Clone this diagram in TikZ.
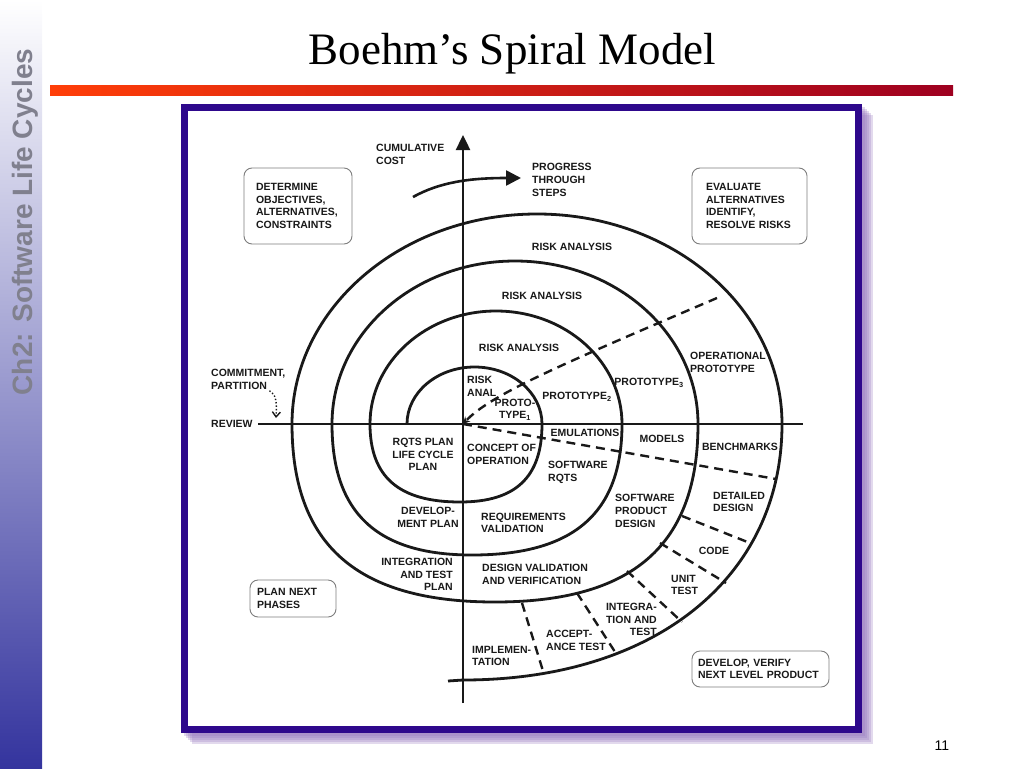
\documentclass[tikz,border=0pt]{standalone}
\usepackage{fontspec}
\setmainfont{Liberation Serif}
\newfontfamily\lblfont{Liberation Sans}
\usetikzlibrary{arrows.meta}

\definecolor{framec}{RGB}{46,8,140}
\definecolor{shadec}{RGB}{150,120,190}
\definecolor{barL}{RGB}{255,62,8}
\definecolor{barR}{RGB}{158,0,32}
\definecolor{sideB}{RGB}{52,52,158}
\definecolor{sidetxt}{RGB}{128,128,142}
\definecolor{boxc}{RGB}{125,125,125}
\definecolor{inkc}{RGB}{25,25,25}

\tikzset{
  lbl/.style={font=\lblfont\bfseries\fontsize{10.5}{12.7}\selectfont, text=inkc, inner sep=0pt},
  lblL/.style={lbl, anchor=west, align=left},
  lblR/.style={lbl, anchor=east, align=right},
  lblC/.style={lbl, align=center},
  phasebox/.style={lbl, draw=boxc, line width=0.9pt, rounded corners=8pt, align=left},
  spiral/.style={draw=inkc, line width=2.8pt, line join=round},
  axisline/.style={draw=inkc, line width=2.4pt},
  splitline/.style={draw=inkc, line width=2.4pt, dash pattern=on 9pt off 6pt},
  titlefont/.style={font=\fontsize{45}{50}\selectfont},
  chap/.style={rotate=90, anchor=base, text=sidetxt, font=\lblfont\bfseries\fontsize{28}{28}\selectfont},
}

\begin{document}
\begin{tikzpicture}[x=1pt, y=-1pt, >=Stealth]
\useasboundingbox (0,0) rectangle (1024,768);

%========================
% side bar, title, page number
%========================
\shade[top color=white, bottom color=sideB] (0,0) rectangle (42,768);
\node[chap] (chapter) at (32,222) {Ch2: Software Life Cycles};

\node[titlefont, anchor=base] (title) at (512.5,64) {Boehm’s Spiral Model};
\shade[left color=barL, right color=barR] (50,85) rectangle (953,95);

\node[font=\lblfont\fontsize{14}{14}\selectfont, anchor=base] (pageno) at (942,750) {11};

%========================
% frame
%========================
\foreach \s in {3,5,7,9,11}
  \fill[shadec, opacity=0.28] (181+\s,104+\s) rectangle (862+\s,733+\s);
\draw[framec, line width=7pt, fill=white] (184.5,107.5) rectangle (858.5,729.5);

%========================
% quadrant boxes
%========================
\node[phasebox, minimum width=108pt, minimum height=76pt, text width=84pt]
  (determine) at (298,206) {DETERMINE\\OBJECTIVES,\\ALTERNATIVES,\\CONSTRAINTS};
\node[phasebox, minimum width=115pt, minimum height=76pt, text width=87pt]
  (evaluate) at (749.5,206) {EVALUATE\\ALTERNATIVES\\IDENTIFY,\\RESOLVE RISKS};
\node[phasebox, minimum width=86pt, minimum height=37pt, text width=72pt]
  (plannext) at (293,598.5) {PLAN NEXT\\PHASES};
\node[phasebox, minimum width=137pt, minimum height=36pt, text width=125pt]
  (develop) at (760.5,669) {DEVELOP, VERIFY\\NEXT LEVEL PRODUCT};

%========================
% axes
%========================
\coordinate (O) at (463,424);
\coordinate (costtip) at (463,135);
\coordinate (costfoot) at (463,703);
\coordinate (rvleft) at (258,424);
\coordinate (rvright) at (803,424);
\draw[axisline] (rvleft) -- (rvright);
\draw[axisline, -{Triangle[length=15pt,width=14pt]}] (costfoot) -- (costtip);

% progress arrow
\coordinate (pgstart) at (413,197);
\coordinate (pgtip) at (521,178);
\draw[axisline, line width=2.6pt, -{Triangle[length=15pt,width=15pt]}]
  (pgstart) .. controls (440,182) and (470,178) .. (pgtip);

%========================
% spiral
%========================
\draw[spiral] (407,424)
  arc[start angle=180, end angle=360, x radius=67.5, y radius=57]
  .. controls (542,477) and (516,502) .. (460,502)
  .. controls (399,502) and (370,477) .. (370,424)
  arc[start angle=180, end angle=360, x radius=126, y radius=113]
  .. controls (622,513) and (574,555) .. (472,555)
  .. controls (377,555) and (332,513) .. (332,424)
  arc[start angle=180, end angle=360, x radius=183, y radius=163]
  .. controls (698,545) and (633,602) .. (495,602)
  .. controls (357,602) and (292,545) .. (292,424)
  arc[start angle=180, end angle=360, x radius=245, y radius=210]
  .. controls (782,578) and (654,680) .. (463,680)
  -- (448,681);

%========================
% dashed dividers
%========================
\coordinate (protoend) at (717,298);
\coordinate (benchend) at (776,479);
\draw[splitline, -{Stealth[length=7pt,width=7pt]}]
  (protoend) .. controls (560,365) and (490,395) .. (O);
\draw[splitline] (O) -- (benchend);

\foreach \xa/\ya/\xb/\yb in {682/516/750/543, 660/543/726/583, 627/571/682/622,
                             577/593/617/655, 522/603/543/671}
  \draw[splitline] (\xa,\ya) -- (\xb,\yb);

%========================
% labels
%========================
\node[lblL] (cost) at (376,154.5) {CUMULATIVE\\COST};
\node[lblL] (progress) at (532,180) {PROGRESS\\THROUGH\\STEPS};
\node[lblC] (risk4) at (572,247) {RISK ANALYSIS};
\node[lblC] (risk3) at (542,296) {RISK ANALYSIS};
\node[lblC] (risk2) at (519,348) {RISK ANALYSIS};
\node[lblL] (risk1) at (467,386.5) {RISK\\ANAL};
\node[lblC] (proto1) at (515,409.5) {PROTO-\\TYPE\textsubscript{1}};
\node[lblC] (proto2) at (577,397) {PROTOTYPE\textsubscript{2}};
\node[lblC] (proto3) at (649,383) {PROTOTYPE\textsubscript{3}};
\node[lblL] (opproto) at (690,362.5) {OPERATIONAL\\PROTOTYPE};
\node[lblC] (emul) at (585,433) {EMULATIONS};
\node[lblC] (models) at (662,439) {MODELS};
\node[lblC] (bench) at (740,447) {BENCHMARKS};
\node[lblC] (rqtsplan) at (423,454.5) {RQTS PLAN\\LIFE CYCLE\\PLAN};
\node[lblL] (concept) at (467,454.5) {CONCEPT OF\\OPERATION};
\node[lblL] (swrqts) at (548,472.5) {SOFTWARE\\RQTS};
\node[lblC] (devplan) at (428,517) {DEVELOP-\\MENT PLAN};
\node[lblL] (reqval) at (481,523) {REQUIREMENTS\\VALIDATION};
\node[lblL] (swdesign) at (615,511) {SOFTWARE\\PRODUCT\\DESIGN};
\node[lblL] (detdesign) at (713,502) {DETAILED\\DESIGN};
\node[lblR] (itplan) at (453,574.5) {INTEGRATION\\AND TEST\\PLAN};
\node[lblL] (desval) at (482,574.5) {DESIGN VALIDATION\\AND VERIFICATION};
\node[lblC] (code) at (714,551) {CODE};
\node[lblL] (unittest) at (671,585) {UNIT\\TEST};
\node[lblR] (integ) at (657,619.5) {INTEGRA-\\TION AND\\TEST};
\node[lblL] (accept) at (546,640.5) {ACCEPT-\\ANCE TEST};
\node[lblL] (implem) at (472,656) {IMPLEMEN-\\TATION};
\node[lblL] (commit) at (211,379.5) {COMMITMENT,\\PARTITION};
\node[lblL] (review) at (211,424) {REVIEW};

% commitment arrow
\coordinate (rvmark) at (276,418);
\draw[inkc, line width=1.4pt, dotted, -{Straight Barb[length=5pt,width=8pt]}]
  ([shift={(-16,1)}]commit.south east) .. controls (276,394) and (277,402) .. (rvmark);

\end{tikzpicture}
\end{document}
